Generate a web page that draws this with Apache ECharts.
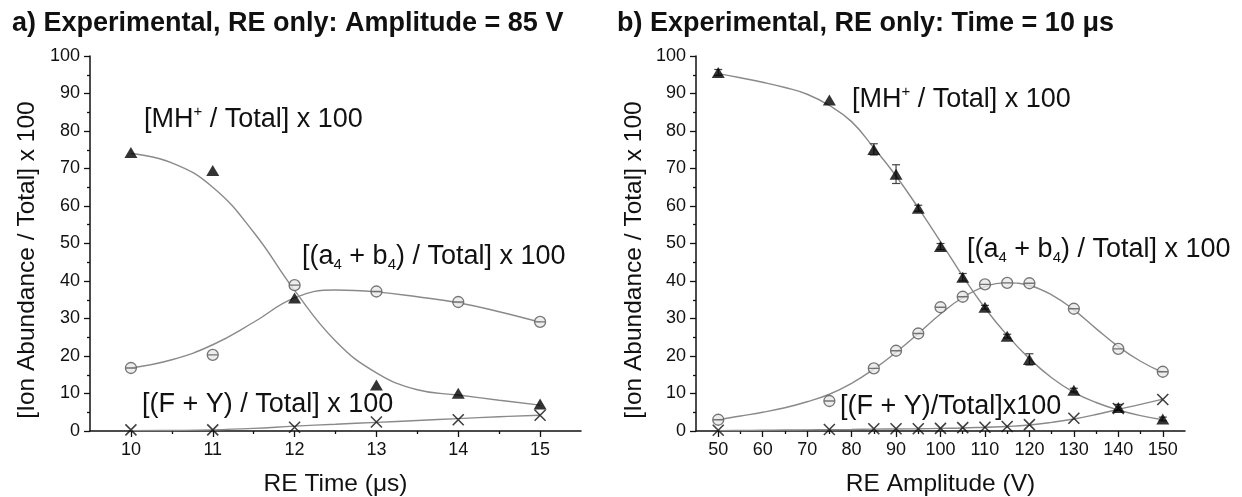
<!DOCTYPE html>
<html>
<head>
<meta charset="utf-8">
<script src="https://cdn.jsdelivr.net/npm/echarts@6/dist/echarts.min.js"></script>
<style>
html,body{margin:0;padding:0;background:#fff;}
#c{width:1242px;height:497px;}
</style>
</head>
<body>
<div id="c"></div>
<script>
// ---------- data ----------
const leftX = [10, 11, 12, 13, 14, 15];
const leftMH = [74.3, 69.5, 35.5, 12.3, 10.1, 7.2];
const leftAB = [16.8, 20.3, 38.9, 37.2, 34.4, 29.1];
const leftFY = [0.3, 0.3, 1.0, 2.4, 3.0, 4.2];
const leftCurveX = [10, 10.5, 11, 11.5, 12, 12.5, 13, 13.5, 14, 14.5, 15];
const leftMHFit = [74, 71.5, 65, 53, 37.5, 24, 15.5, 11, 9.6, 8.2, 6.9];
const leftABFit = [16.8, 19, 23, 29, 35.5, 37.6, 37.1, 35.8, 34.2, 31.8, 29];
const leftFYFit = [0.1, 0.15, 0.3, 0.7, 1.3, 1.8, 2.3, 2.8, 3.3, 3.8, 4.2];

const rightX = [50, 75, 85, 90, 95, 100, 105, 110, 115, 120, 130, 140, 150];
const rightMH = [95.6, 88.3, 75.1, 68.5, 59.4, 49.2, 41, 33, 25.3, 19.1, 10.9, 6.3, 3.2];
const rightMHErr = [0.8, 0, 1.5, 2.5, 0.8, 0.8, 1, 0.5, 0.5, 1.5, 0.5, 0.8, 0.5];
const rightAB = [3.0, 8.0, 16.7, 21.4, 26, 33, 35.8, 39.1, 39.5, 39.4, 32.6, 21.9, 15.8];
const rightFY = [0.2, 0.4, 0.6, 0.6, 0.6, 0.7, 0.9, 1.0, 1.2, 1.7, 3.4, 6.0, 8.4];
const rightCurveX = [50, 55, 60, 65, 70, 75, 80, 85, 90, 95, 100, 105, 110, 115, 120, 125, 130, 135, 140, 145, 150];
const rightMHFit = [95.3, 94.2, 93, 91.6, 89.8, 86.8, 82.5, 75.5, 68, 59.5, 50.5, 41.3, 32.8, 25.5, 19.3, 14.2, 10.3, 7.6, 5.6, 4.1, 3.0];
const rightABFit = [3.0, 4.0, 5.0, 6.2, 7.8, 9.8, 12.7, 16.5, 21.0, 26.0, 31.2, 35.6, 38.5, 39.5, 38.8, 36.3, 32.3, 27.3, 22.5, 18.6, 15.6];
const rightFYFit = [0.1, 0.15, 0.2, 0.25, 0.3, 0.35, 0.4, 0.5, 0.55, 0.6, 0.7, 0.8, 1.0, 1.2, 1.6, 2.3, 3.2, 4.4, 5.8, 7.1, 8.5];

const leftTickLabels = [10, 11, 12, 13, 14, 15];
const leftMinorTicks = [10.5, 11.5, 12.5, 13.5, 14.5];
const rightTickLabels = [50, 60, 70, 80, 90, 100, 110, 120, 130, 140, 150];
const rightMinorTicks = [55, 65, 75, 85, 95, 105, 115, 125, 135, 145];

// ---------- styles ----------
const FONT = '"Liberation Sans", Arial, Helvetica, sans-serif';
const TXT = '#111';
const CURVE = '#8a8a8a';
const circPath = 'path://M0,-10A10,10 0 1,1 0,10A10,10 0 1,1 0,-10ZM-10,0L10,0';
const crossPath = 'path://M0,0L10,10M10,0L0,10';

function zip(xs, ys) { return xs.map((x, i) => [x, ys[i]]); }

function xMain(grid, min, max, labels, name) {
  return {
    type: 'value', gridIndex: grid, min: min, max: max, position: 'bottom',
    splitLine: { show: false },
    axisLine: { show: true, onZero: false, lineStyle: { color: '#111', width: 1.5 } },
    axisTick: { show: true, customValues: labels, length: 6, lineStyle: { color: '#111', width: 1.3 } },
    axisLabel: { show: true, customValues: labels, fontSize: 18, color: TXT, fontFamily: FONT, margin: 10 },
    name: name, nameLocation: 'middle', nameGap: 41,
    nameTextStyle: { fontSize: 24.5, color: TXT, fontFamily: FONT }
  };
}
function xMinor(grid, min, max, ticks) {
  return {
    type: 'value', gridIndex: grid, min: min, max: max, position: 'bottom',
    splitLine: { show: false },
    axisLine: { show: false, onZero: false },
    axisTick: { show: true, customValues: ticks, length: 3, lineStyle: { color: '#111', width: 1.3 } },
    axisLabel: { show: false }
  };
}
function yMain(grid) {
  return {
    type: 'value', gridIndex: grid, min: 0, max: 100, interval: 10,
    splitLine: { show: false },
    axisLine: { show: true, onZero: false, lineStyle: { color: '#111', width: 1.5 } },
    axisTick: { show: true, length: 6, lineStyle: { color: '#111', width: 1.3 } },
    minorTick: { show: true, splitNumber: 2, length: 3, lineStyle: { color: '#111', width: 1.3 } },
    axisLabel: { fontSize: 18, color: TXT, fontFamily: FONT, margin: 10 }
  };
}
function curve(xi, yi, xs, ys) {
  return { type: 'line', xAxisIndex: xi, yAxisIndex: yi, data: zip(xs, ys), smooth: 0.45,
    showSymbol: false, symbol: 'none', silent: true, z: 2,
    lineStyle: { color: CURVE, width: 1.4 } };
}
function tri(xi, yi, xs, ys) {
  return { type: 'scatter', xAxisIndex: xi, yAxisIndex: yi, data: zip(xs, ys), symbol: 'triangle',
    symbolSize: [13, 11], z: 5, itemStyle: { color: '#000' } };
}
function circ(xi, yi, xs, ys) {
  return { type: 'scatter', xAxisIndex: xi, yAxisIndex: yi, data: zip(xs, ys), symbol: circPath,
    symbolSize: 11, z: 4, itemStyle: { color: '#e8e8e8', borderColor: '#555', borderWidth: 1.3 } };
}
function cross(xi, yi, xs, ys) {
  return { type: 'scatter', xAxisIndex: xi, yAxisIndex: yi, data: zip(xs, ys), symbol: crossPath,
    symbolSize: 11, z: 4, itemStyle: { color: 'none', borderColor: '#111', borderWidth: 1.6 } };
}
function errBars(xi, yi, xs, ys, es) {
  return {
    type: 'custom', xAxisIndex: xi, yAxisIndex: yi, z: 3, silent: true,
    data: xs.map((x, i) => [x, ys[i], es[i]]),
    renderItem: function (params, api) {
      const x = api.value(0), y = api.value(1), e = api.value(2);
      if (!e) return;
      const lo = api.coord([x, y - e]), hi = api.coord([x, y + e]);
      const st = { stroke: '#444', lineWidth: 1.2 };
      return { type: 'group', children: [
        { type: 'line', shape: { x1: lo[0], y1: lo[1], x2: hi[0], y2: hi[1] }, style: st },
        { type: 'line', shape: { x1: lo[0] - 4, y1: lo[1], x2: lo[0] + 4, y2: lo[1] }, style: st },
        { type: 'line', shape: { x1: hi[0] - 4, y1: hi[1], x2: hi[0] + 4, y2: hi[1] }, style: st }
      ] };
    }
  };
}

const richAnn = {
  sup: { fontSize: 15, verticalAlign: 'top', lineHeight: 10, fontFamily: FONT, fill: TXT, color: TXT },
  sub: { fontSize: 15, verticalAlign: 'bottom', lineHeight: 10, fontFamily: FONT, fill: TXT, color: TXT }
};
function ann(x, y, text) {
  return { type: 'text', x: x, y: y, z: 10, silent: true,
    style: { text: text, fontSize: 27, fontFamily: FONT, fill: TXT, lineHeight: 31,
      textAlign: 'left', textVerticalAlign: 'middle', rich: richAnn } };
}
function title(x, y, text) {
  return { type: 'text', x: x, y: y, z: 10, silent: true,
    style: { text: text, fontSize: 27, fontWeight: 'bold', fontFamily: FONT, fill: TXT,
      textAlign: 'left', textVerticalAlign: 'middle' } };
}
function yName(x, y) {
  return { type: 'text', x: x, y: y, rotation: Math.PI / 2, z: 10, silent: true,
    style: { text: '[Ion Abundance / Total] x 100', fontSize: 24.5, fontFamily: FONT, fill: TXT,
      textAlign: 'center', textVerticalAlign: 'middle' } };
}

const option = {
  animation: false,
  backgroundColor: '#fff',
  grid: [
    { left: 90, top: 56, width: 491, height: 375, containLabel: false, outerBoundsMode: 'none' },
    { left: 696, top: 56, width: 489, height: 375, containLabel: false, outerBoundsMode: 'none' }
  ],
  xAxis: [
    xMain(0, 9.5, 15.5, leftTickLabels, 'RE Time (\u03bcs)'),
    xMinor(0, 9.5, 15.5, leftMinorTicks),
    xMain(1, 45, 155, rightTickLabels, 'RE Amplitude (V)'),
    xMinor(1, 45, 155, rightMinorTicks)
  ],
  yAxis: [yMain(0), yMain(1)],
  series: [
    curve(0, 0, leftCurveX, leftMHFit),
    curve(0, 0, leftCurveX, leftABFit),
    curve(0, 0, leftCurveX, leftFYFit),
    tri(0, 0, leftX, leftMH),
    circ(0, 0, leftX, leftAB),
    cross(0, 0, leftX, leftFY),
    curve(2, 1, rightCurveX, rightMHFit),
    curve(2, 1, rightCurveX, rightABFit),
    curve(2, 1, rightCurveX, rightFYFit),
    errBars(2, 1, rightX, rightMH, rightMHErr),
    tri(2, 1, rightX, rightMH),
    circ(2, 1, rightX, rightAB),
    cross(2, 1, rightX, rightFY)
  ],
  graphic: [
    title(12, 24, 'a) Experimental, RE only: Amplitude = 85 V'),
    title(617, 24, 'b) Experimental, RE only: Time = 10 \u03bcs'),
    yName(27, 260),
    yName(634, 260),
    ann(144, 120, '[MH{sup|+} / Total] x 100'),
    ann(302, 257, '[(a{sub|4} + b{sub|4}) / Total] x 100'),
    ann(142, 405, '[(F + Y) / Total] x 100'),
    ann(852, 100, '[MH{sup|+} / Total] x 100'),
    ann(967, 250, '[(a{sub|4} + b{sub|4}) / Total] x 100'),
    ann(840, 407, '[(F + Y)/Total]x100')
  ]
};

const chart = echarts.init(document.getElementById('c'), null, { renderer: 'canvas' });
chart.setOption(option);
</script>
</body>
</html>
